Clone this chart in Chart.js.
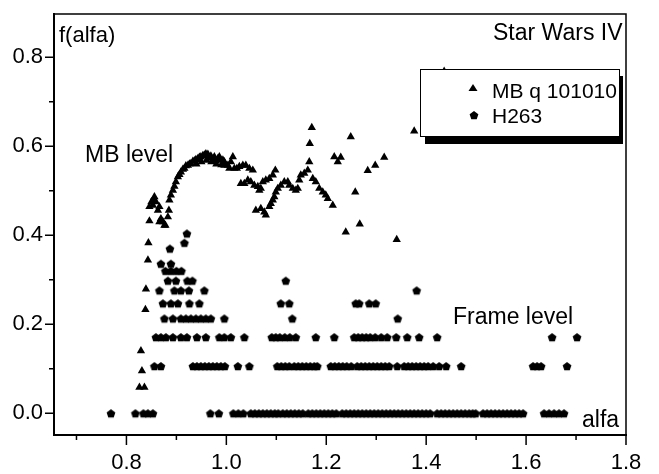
<!DOCTYPE html>
<html>
<head>
<meta charset="utf-8">
<script src="https://cdn.jsdelivr.net/npm/chart.js@4.4.1/dist/chart.umd.min.js"></script>
<style>
  html, body { margin: 0; padding: 0; background: #fff; }
</style>
</head>
<body>
<canvas id="grafico" width="659" height="474"></canvas>
<script>
// MB q 101010 (triangulos)
const mbAlpha = [
  0.826, 0.836, 0.831, 0.829, 0.838, 0.839, 0.843, 0.844, 0.846,
  0.846, 0.850, 0.853, 0.856, 0.859, 0.854, 0.863, 0.866, 0.866, 0.869, 0.873, 0.876, 0.878, 0.883, 0.885,
  0.886, 0.889, 0.893, 0.896, 0.899, 0.903, 0.906, 0.909, 0.913, 0.916, 0.919, 0.923, 0.926, 0.929, 0.933,
  0.936, 0.939, 0.943, 0.946, 0.949, 0.953, 0.956, 0.959, 0.963, 0.966, 0.969, 0.973, 0.976, 0.979, 0.983,
  0.986, 0.989, 0.993, 0.996, 0.996, 1.003, 1.006, 1.009, 1.013, 1.016, 1.021, 1.026, 1.033, 1.039, 1.046, 1.053,
  0.940, 0.950, 0.960, 0.970, 0.980, 0.990,
  1.029, 1.036, 1.043, 1.049, 1.056, 1.063, 1.069, 1.066, 1.073, 1.079, 1.086, 1.093, 1.098,
  1.059, 1.069, 1.076, 1.079, 1.086, 1.089, 1.093, 1.096, 1.099, 1.103, 1.109, 1.116, 1.123, 1.126, 1.133, 1.139, 1.143,
  1.146, 1.149, 1.156, 1.163, 1.166, 1.167, 1.171,
  1.173, 1.179, 1.186, 1.193, 1.199, 1.203, 1.213,
  1.216, 1.223, 1.229, 1.249, 1.258, 1.283, 1.298, 1.316, 1.239, 1.267, 1.341, 1.376, 1.436
];
const mbF = [
  0.058, 0.058, 0.095, 0.140, 0.233, 0.279, 0.344, 0.383, 0.432,
  0.464, 0.475, 0.467, 0.486, 0.475, 0.480, 0.456, 0.464, 0.430, 0.437, 0.430, 0.422, 0.422, 0.441, 0.456,
  0.479, 0.490, 0.501, 0.510, 0.520, 0.531, 0.536, 0.542, 0.548, 0.550, 0.556, 0.557, 0.560, 0.561, 0.566,
  0.567, 0.570, 0.572, 0.575, 0.576, 0.579, 0.580, 0.583, 0.582, 0.574, 0.578, 0.570, 0.576, 0.567, 0.572,
  0.576, 0.569, 0.569, 0.565, 0.557, 0.557, 0.550, 0.565, 0.576, 0.550, 0.550, 0.554, 0.557, 0.557, 0.550, 0.546,
  0.560, 0.565, 0.568, 0.565, 0.560, 0.558,
  0.516, 0.516, 0.524, 0.520, 0.512, 0.509, 0.505, 0.501, 0.520, 0.524, 0.527, 0.535, 0.546,
  0.456, 0.460, 0.452, 0.445, 0.464, 0.471, 0.479, 0.486, 0.497, 0.505, 0.512, 0.520, 0.520, 0.512, 0.505, 0.501, 0.505,
  0.524, 0.535, 0.539, 0.546, 0.565, 0.606, 0.642,
  0.527, 0.520, 0.505, 0.497, 0.490, 0.482, 0.467,
  0.576, 0.565, 0.575, 0.621, 0.497, 0.545, 0.557, 0.575, 0.407, 0.425, 0.390, 0.634, 0.768
];

// H263 (pentagonos): um nivel de f(alfa) por linha
const h263Levels = [0, 0.106, 0.171, 0.213, 0.247, 0.276, 0.298, 0.320, 0.336, 0.370, 0.383, 0.404];
const h263Rows = [
  [0.769, 0.818, 0.834, 0.843, 0.853, 0.968, 0.985, 1.014, 1.024, 1.034,
   1.049, 1.057, 1.065, 1.073, 1.081, 1.089, 1.097, 1.104, 1.113, 1.121, 1.129, 1.137, 1.145, 1.153,
   1.164, 1.172, 1.180, 1.188, 1.196, 1.204, 1.212, 1.220, 1.232, 1.240, 1.248, 1.256, 1.264, 1.272,
   1.280, 1.288, 1.296, 1.304, 1.312, 1.320, 1.328, 1.336, 1.344, 1.352, 1.360, 1.368, 1.376, 1.384,
   1.392, 1.400, 1.408, 1.422, 1.430, 1.438, 1.446, 1.454, 1.462, 1.470, 1.478, 1.486, 1.493, 1.499,
   1.514, 1.522, 1.530, 1.538, 1.546, 1.554, 1.562, 1.570, 1.578, 1.586, 1.594,
   1.636, 1.646, 1.656, 1.666, 1.676],
  [0.856, 0.869, 0.933, 0.941, 0.949, 0.957, 0.965, 0.973, 0.981, 0.989, 0.997, 1.023, 1.046,
   1.102, 1.110, 1.118, 1.126, 1.136, 1.144, 1.152, 1.160, 1.168, 1.176, 1.182,
   1.209, 1.217, 1.225, 1.233, 1.241, 1.250, 1.262, 1.270, 1.278, 1.286, 1.294, 1.302, 1.310, 1.318,
   1.326, 1.342, 1.356, 1.364, 1.372, 1.380, 1.388, 1.396, 1.404, 1.414, 1.426, 1.440, 1.470,
   1.614, 1.622, 1.630, 1.682],
  [0.859, 0.869, 0.879, 0.893, 0.909, 0.921, 0.941, 0.959, 0.986, 0.996, 1.009, 1.036,
   1.091, 1.099, 1.107, 1.117, 1.127, 1.139, 1.179, 1.216,
   1.256, 1.264, 1.272, 1.280, 1.288, 1.298, 1.310, 1.322, 1.340, 1.362, 1.386, 1.422, 1.652, 1.702],
  [0.876, 0.893, 0.909, 0.919, 0.929, 0.939, 0.949, 0.959, 0.969, 0.996, 1.132, 1.343],
  [0.873, 0.889, 0.903, 0.926, 0.946, 1.109, 1.126, 1.259, 1.266, 1.286, 1.299],
  [0.866, 0.896, 0.909, 0.925, 0.956, 1.381],
  [0.883, 0.899, 0.922, 0.932, 1.119],
  [0.878, 0.889, 0.900, 0.910],
  [0.869, 0.889],
  [0.887],
  [0.916],
  [0.921]
];

const xMajor = [0.8, 1.0, 1.2, 1.4, 1.6, 1.8];
const xMinor = [0.7, 0.9, 1.1, 1.3, 1.5, 1.7];
const yMajor = [0.0, 0.2, 0.4, 0.6, 0.8];
const yMinor = [0.1, 0.3, 0.5, 0.7];

const FONTE = "'Liberation Sans', Arial, sans-serif";

// pentagono como imagem para o pointStyle
function criarPentagono(r) {
    const c = document.createElement("canvas");
    c.width = Math.ceil(r * 2 + 2);
    c.height = Math.ceil(r * 2 + 2);
    const g = c.getContext("2d");
    g.fillStyle = "#000";
    g.beginPath();
    for (let i = 0; i < 5; i++) {
        const a = -Math.PI / 2 + i * 2 * Math.PI / 5;
        const px = c.width / 2 + r * Math.cos(a);
        const py = c.height / 2 + 0.6 + r * Math.sin(a);
        if (i === 0) g.moveTo(px, py); else g.lineTo(px, py);
    }
    g.closePath();
    g.fill();
    return c;
}
const pentagono = criarPentagono(4.6);

const mbPontos = mbAlpha.map((x, i) => ({ x: x, y: mbF[i] }));
const h263Pontos = [];
h263Rows.forEach((linha, i) => {
    linha.forEach(x => h263Pontos.push({ x: x, y: h263Levels[i] }));
});

// ticks maiores/menores, moldura, textos e legenda
const extras = {
    id: "extras",
    afterDatasetsDraw(chart) {
        const ctx = chart.ctx;
        const a = chart.chartArea;
        const sx = chart.scales.x, sy = chart.scales.y;
        ctx.save();
        ctx.strokeStyle = "#000";
        ctx.lineWidth = 1.5;
        ctx.beginPath();
        ctx.moveTo(a.left, a.top);
        ctx.lineTo(a.right, a.top);
        ctx.lineTo(a.right, a.bottom);
        ctx.stroke();

        ctx.beginPath();
        xMajor.forEach(v => { const p = sx.getPixelForValue(v); ctx.moveTo(p, a.bottom); ctx.lineTo(p, a.bottom + 10); });
        xMinor.forEach(v => { const p = sx.getPixelForValue(v); ctx.moveTo(p, a.bottom); ctx.lineTo(p, a.bottom + 5); });
        yMajor.forEach(v => { const p = sy.getPixelForValue(v); ctx.moveTo(a.left, p); ctx.lineTo(a.left - 9, p); });
        yMinor.forEach(v => { const p = sy.getPixelForValue(v); ctx.moveTo(a.left, p); ctx.lineTo(a.left - 5, p); });
        ctx.stroke();

        // anotacoes
        ctx.fillStyle = "#000";
        ctx.textBaseline = "alphabetic";
        ctx.textAlign = "left";
        ctx.font = "22px " + FONTE;
        ctx.fillText("f(alfa)", 59, 42);
        ctx.font = "23px " + FONTE;
        ctx.fillText("Star Wars IV", 493, 40);
        ctx.fillText("MB level", 85, 162);
        ctx.fillText("Frame level", 453, 324);
        ctx.fillText("alfa", 582, 427);

        // legenda com sombra
        ctx.fillRect(425, 76, 198, 68);
        ctx.fillStyle = "#fff";
        ctx.fillRect(420, 69, 200, 68);
        ctx.lineWidth = 1;
        ctx.strokeRect(420.5, 69.5, 199, 67);
        ctx.fillStyle = "#000";
        ctx.beginPath();
        ctx.moveTo(473, 84);
        ctx.lineTo(477.5, 91);
        ctx.lineTo(468.5, 91);
        ctx.closePath();
        ctx.fill();
        ctx.drawImage(pentagono, 474 - pentagono.width / 2, 115 - pentagono.height / 2);
        ctx.font = "21px " + FONTE;
        ctx.fillText("MB q 101010", 492, 98);
        ctx.fillText("H263", 492, 123);
        ctx.restore();
    }
};

new Chart(document.getElementById("grafico").getContext("2d"), {
    type: "scatter",
    data: {
        datasets: [
            {
                label: "MB q 101010",
                data: mbPontos,
                pointStyle: "triangle",
                pointRadius: 4.8,
                backgroundColor: "#000",
                borderColor: "#000",
                borderWidth: 0
            },
            {
                label: "H263",
                data: h263Pontos,
                pointStyle: pentagono,
                pointRadius: 4.6,
                backgroundColor: "#000",
                borderColor: "#000"
            }
        ]
    },
    options: {
        responsive: false,
        animation: false,
        events: [],
        layout: { padding: { top: 14, right: 33, left: 0, bottom: 0 } },
        plugins: {
            legend: { display: false },
            tooltip: { enabled: false }
        },
        scales: {
            x: {
                type: "linear",
                min: 0.655,
                max: 1.8,
                grid: { display: false, drawTicks: false },
                border: { display: true, color: "#000", width: 2 },
                afterBuildTicks(s) { s.ticks = xMajor.map(v => ({ value: v })); },
                ticks: {
                    autoSkip: false,
                    maxRotation: 0,
                    padding: 15,
                    color: "#000",
                    font: { family: FONTE, size: 22 },
                    callback: v => v.toFixed(1)
                },
                afterFit(s) { s.height = 39; s.paddingLeft = 0; s.paddingRight = 0; }
            },
            y: {
                type: "linear",
                min: -0.049,
                max: 0.897,
                grid: { display: false, drawTicks: false },
                border: { display: true, color: "#000", width: 2 },
                afterBuildTicks(s) { s.ticks = yMajor.map(v => ({ value: v })); },
                ticks: {
                    autoSkip: false,
                    padding: 11,
                    color: "#000",
                    font: { family: FONTE, size: 22 },
                    callback: v => v.toFixed(1)
                },
                afterFit(s) { s.width = 54; s.paddingTop = 0; s.paddingBottom = 0; }
            }
        }
    },
    plugins: [extras]
});
</script>
</body>
</html>
